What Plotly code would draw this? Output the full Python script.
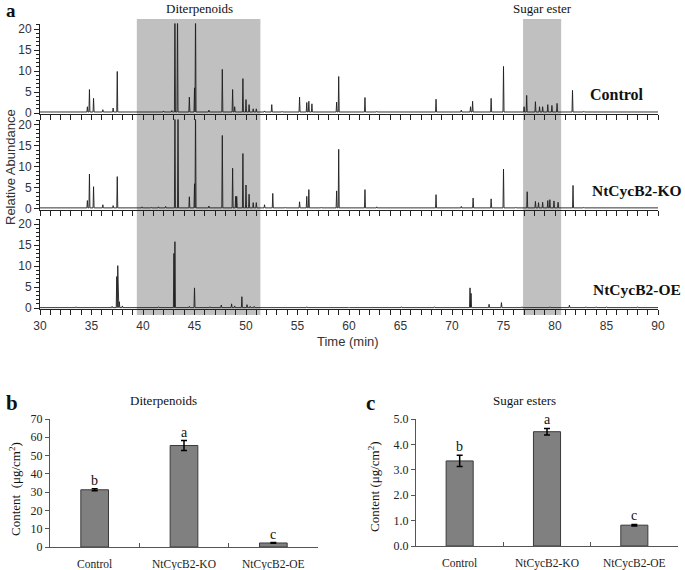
import plotly.graph_objects as go

# ---------------- data ----------------
# Chromatogram peaks (retention time, min) and relative abundance
ctrl_rt = [31.5, 33.0, 34.6, 34.8, 35.2, 36.1, 37.1, 37.5, 38.3, 39.9, 41.0, 42.0, 42.8, 43.1, 43.35,
           44.5, 45.0, 45.1, 46.4, 47.7, 48.7, 48.9, 49.7, 50.0, 50.3, 50.7, 51.0, 51.8, 52.5, 53.5,
           55.2, 55.9, 56.1, 56.4, 57.5, 58.8, 59.0, 61.55, 62.7, 64.2, 66.0, 68.45, 70.9, 71.8, 72.0,
           73.8, 75.0, 76.3, 77.0, 77.25, 78.1, 78.5, 78.8, 79.3, 79.7, 80.2, 81.7, 82.8, 83.8, 85.0]
ctrl_h = [0.3, 0.3, 1.5, 5.6, 3.5, 0.8, 1.2, 9.9, 0.3, 0.4, 0.4, 0.5, 0.6, 25, 25,
          3.8, 6.0, 25, 0.7, 10.4, 5.6, 1.5, 8.2, 3.2, 2.0, 1.0, 1.0, 0.5, 2.0, 0.4,
          3.8, 2.5, 2.8, 2.2, 0.4, 2.6, 8.7, 3.7, 0.4, 0.3, 0.3, 3.3, 0.7, 1.5, 2.8,
          3.5, 11.1, 0.4, 1.5, 4.2, 2.7, 1.5, 1.5, 2.0, 1.8, 2.3, 5.4, 0.4, 0.3, 0.3]

ko_rt = [31.5, 33.0, 34.6, 34.8, 35.2, 36.1, 37.1, 37.5, 38.3, 39.9, 40.8, 41.5, 42.2, 43.1, 43.4,
         44.5, 45.0, 45.1, 46.4, 47.7, 48.7, 49.0, 49.1, 49.7, 50.0, 50.3, 50.7, 51.0, 51.8, 52.6,
         53.8, 55.2, 55.9, 56.1, 57.3, 58.8, 59.0, 61.55, 62.7, 64.5, 66.2, 68.45, 70.9, 72.05, 73.8,
         75.0, 76.2, 77.3, 78.1, 78.4, 78.8, 79.3, 79.5, 79.9, 80.3, 81.75, 82.8, 83.8, 85.0]
ko_h = [0.3, 0.3, 2.0, 8.3, 5.3, 1.0, 0.8, 7.7, 0.3, 0.5, 0.4, 0.5, 0.6, 25, 25,
        2.9, 6.0, 25, 0.7, 17.5, 9.7, 3.0, 3.0, 13.2, 5.7, 3.5, 1.5, 1.5, 1.0, 3.7,
        0.4, 1.7, 3.0, 4.6, 0.4, 4.3, 14.2, 4.6, 0.5, 0.3, 0.3, 3.4, 0.6, 2.6, 2.4,
        9.5, 0.4, 4.1, 1.8, 1.5, 1.6, 2.0, 2.2, 1.9, 1.6, 5.6, 0.4, 0.3, 0.3]

oe_rt = [31.5, 33.5, 35.0, 37.0, 37.45, 37.55, 37.7, 38.0, 39.5, 41.5, 43.0, 43.1, 44.5, 45.0,
         46.5, 47.6, 48.6, 48.9, 49.6, 50.1, 50.4, 50.8, 53.0, 55.9, 60.0, 65.1, 68.3, 71.75,
         71.85, 73.6, 74.8, 76.8, 79.5, 81.4, 83.0, 84.0, 85.0, 88.0]
oe_h = [0.2, 0.3, 0.2, 0.4, 7.5, 10.1, 1.5, 0.5, 0.2, 0.3, 13.0, 15.8, 0.4, 4.8,
        0.3, 0.7, 1.0, 0.5, 2.7, 0.8, 0.4, 0.4, 0.2, 0.3, 0.2, 0.3, 0.3, 4.8,
        3.5, 0.9, 1.3, 0.3, 0.3, 0.7, 0.3, 0.3, 0.3, 0.3]

sample_names = ["Control", "NtCycB2-KO", "NtCycB2-OE"]
shade_diterp = [39.4, 51.4]
shade_sugar = [76.9, 80.6]

# Bar panels
groups = ["Control", "NtCycB2-KO", "NtCycB2-OE"]
diterp_val = [31.3, 55.5, 2.2]
diterp_err = [0.5, 2.7, 0.2]
diterp_sig = ["b", "a", "c"]
sugar_val = [3.35, 4.50, 0.82]
sugar_err = [0.22, 0.13, 0.03]
sugar_sig = ["b", "a", "c"]

# ---------------- helpers ----------------
SERIF = "Liberation Serif, Times New Roman, serif"
SANS = "Liberation Sans, Arial, sans-serif"
W, H = 685, 570


def px_x(p):
    return p / W


def px_y(p):
    return 1 - p / H


def stick_trace(rt, h, base, xa, ya, w=0.05):
    xs, ys = [30.0], [base]
    for t, v in sorted(zip(rt, h)):
        xs += [t - w, t, t + w]
        ys += [base, v, base]
    xs.append(90.0)
    ys.append(base)
    return go.Scatter(x=xs, y=ys, mode="lines", line=dict(color="#1e1e1e", width=0.9),
                      xaxis=xa, yaxis=ya, showlegend=False, hoverinfo="skip")


fig = go.Figure()
fig.add_trace(stick_trace(oe_rt, oe_h, 0.1, "x", "y"))
fig.add_trace(stick_trace(ko_rt, ko_h, 0.25, "x2", "y2"))
fig.add_trace(stick_trace(ctrl_rt, ctrl_h, 0.25, "x3", "y3"))

bar_style = dict(marker=dict(color="#808080", line=dict(color="#3a3a3a", width=1)), width=0.31,
                 showlegend=False, hoverinfo="skip")
fig.add_trace(go.Bar(x=groups, y=diterp_val, xaxis="x4", yaxis="y4",
                     error_y=dict(type="data", array=diterp_err, color="black", thickness=1.5, width=3),
                     **bar_style))
fig.add_trace(go.Bar(x=groups, y=sugar_val, xaxis="x5", yaxis="y5",
                     error_y=dict(type="data", array=sugar_err, color="black", thickness=1.5, width=3),
                     **bar_style))

# ---------------- axes ----------------
chrom_x = dict(domain=[px_x(40), px_x(658)], range=[30, 90], showline=True, linecolor="#222",
               linewidth=1, ticks="outside", tickcolor="#222", ticklen=5, dtick=5, tick0=30,
               minor=dict(dtick=1, ticks="outside", ticklen=5, tickcolor="#222"),
               showgrid=False, zeroline=False, automargin=False,
               tickfont=dict(family=SANS, size=12, color="#333"))
chrom_y = dict(range=[-0.3, 21.3], showline=True, linecolor="#222", linewidth=1,
               ticks="outside", tickcolor="#222", ticklen=5, tickvals=[0, 5, 10, 15, 20],
               minor=dict(dtick=1, ticks="outside", ticklen=3, tickcolor="#222"),
               showgrid=False, zeroline=False, automargin=False,
               tickfont=dict(family=SANS, size=12, color="#333"))

# panel bottoms / tops in px
panels = [(309.3, 218.6), (210.2, 119.5), (114.3, 23.6)]  # OE, KO, Control

layout = dict(template="none", width=W, height=H, margin=dict(l=0, r=0, t=0, b=0, pad=0),
              paper_bgcolor="white", plot_bgcolor="rgba(0,0,0,0)", showlegend=False,
              bargap=0.69)
layout["xaxis"] = dict(chrom_x, anchor="y")
layout["xaxis2"] = dict(chrom_x, anchor="y2", showticklabels=False, matches="x")
layout["xaxis3"] = dict(chrom_x, anchor="y3", showticklabels=False, matches="x")
for i, (b, t) in enumerate(panels):
    key = "yaxis" if i == 0 else f"yaxis{i + 1}"
    layout[key] = dict(chrom_y, anchor="x" if i == 0 else f"x{i + 1}", domain=[px_y(b), px_y(t)])

bar_x = dict(showline=True, linecolor="#555", linewidth=1, ticks="inside", tickson="boundaries",
             ticklen=4, tickcolor="#555", showgrid=False, zeroline=False, range=[-0.5, 2.5],
             automargin=False, tickfont=dict(family=SERIF, size=11.5, color="#222"),
             ticklabelstandoff=6)
bar_y = dict(showline=True, linecolor="#555", linewidth=1, ticks="outside", ticklen=4,
             tickcolor="#555", showgrid=False, zeroline=False, automargin=False,
             tickfont=dict(family=SERIF, size=12, color="#222"))
layout["xaxis4"] = dict(bar_x, anchor="y4", domain=[px_x(50), px_x(318)])
layout["yaxis4"] = dict(bar_y, anchor="x4", domain=[px_y(547), px_y(419)], range=[0, 70], dtick=10)
layout["xaxis5"] = dict(bar_x, anchor="y5", domain=[px_x(416), px_x(678)])
layout["yaxis5"] = dict(bar_y, anchor="x5", domain=[px_y(546), px_y(419)], range=[0, 5],
                        dtick=1, tickformat=".1f")

fig.update_layout(**layout)

# shaded regions across panel a
for x0, x1 in (shade_diterp, shade_sugar):
    fig.add_shape(type="rect", xref="x", yref="paper", x0=x0, x1=x1, y0=px_y(315), y1=px_y(19),
                  fillcolor="#c0c0c0", line=dict(width=0), layer="below")


def ann(text, x, y, size, family=SERIF, bold=False, color="#111", xanchor="center",
        yanchor="middle", angle=0):
    fig.add_annotation(text=f"<b>{text}</b>" if bold else text, x=px_x(x), y=px_y(y),
                       xref="paper", yref="paper", showarrow=False, xanchor=xanchor,
                       yanchor=yanchor, textangle=angle,
                       font=dict(family=family, size=size, color=color))


ann("a", 4, 11, 19, bold=True, xanchor="left")
ann("Diterpenoids", 200, 8, 13)
ann("Sugar ester", 542, 8, 13)
ann(sample_names[0], 646, 94, 16, bold=True, xanchor="right")
ann(sample_names[1], 684, 191, 15.5, bold=True, xanchor="right")
ann(sample_names[2], 683, 289, 15.5, bold=True, xanchor="right")
ann("Relative Abundance", 10, 167, 13, family=SANS, color="#333", angle=-90)
ann("Time (min)", 348, 341, 13, family=SANS, color="#333")

ann("b", 4, 403, 21, bold=True, xanchor="left")
ann("Diterpenoids", 163, 400, 13)
ann("Content  (μg/cm<sup>2</sup>)", 15, 489, 13, angle=-90)
ann("c", 364, 403, 21, bold=True, xanchor="left")
ann("Sugar esters", 524, 400, 13)
ann("Content (μg/cm<sup>2</sup>)", 374, 486, 13, angle=-90)

for xa, ya, vals, errs, sigs in (("x4", "y4", diterp_val, diterp_err, diterp_sig),
                                 ("x5", "y5", sugar_val, sugar_err, sugar_sig)):
    for g, v, e, s in zip(groups, vals, errs, sigs):
        fig.add_annotation(text=s, x=g, y=v + e, xref=xa, yref=ya, showarrow=False,
                           yanchor="bottom", yshift=-1,
                           font=dict(family=SERIF, size=14, color="#111"))

fig.write_html("out.html", config={"displayModeBar": False},
               post_script="document.body.style.margin='0';document.body.style.overflow='hidden';")
